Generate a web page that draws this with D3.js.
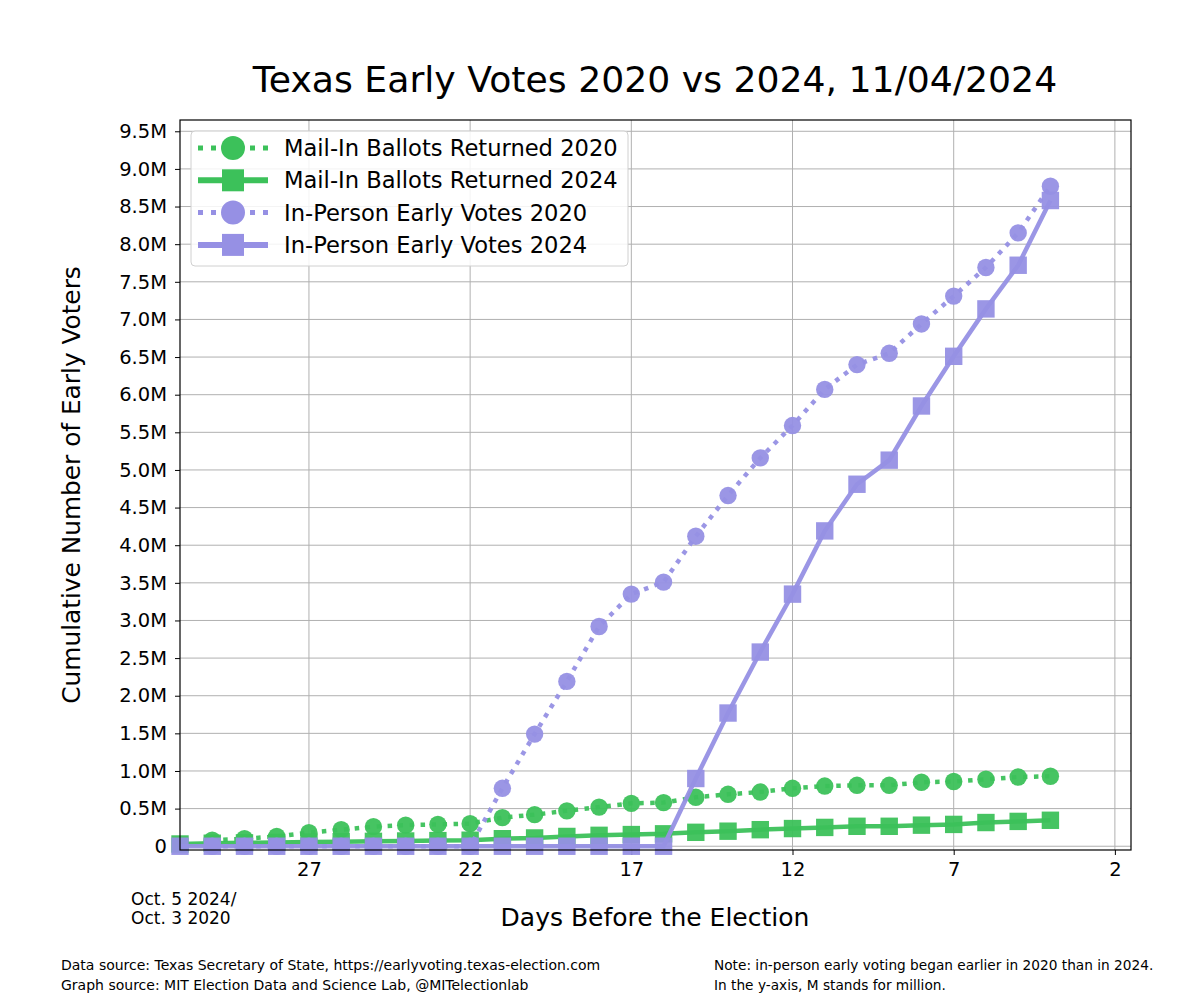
<!DOCTYPE html>
<html><head><meta charset="utf-8">
<script src="https://cdn.jsdelivr.net/npm/d3@7"></script>
<style>
body{margin:0;background:#fff;}
text{font-family:"DejaVu Sans",sans-serif;fill:#000;}
</style></head>
<body><svg id="c" width="1190" height="1000"></svg>
<script>
const days2024 = [31,30,29,28,27,26,25,24,23,22,21,20,19,18,17,16,15,14,13,12,11,10,9,8,7,6,5,4];
const days2020 = [30,29,28,27,26,25,24,23,22,21,20,19,18,17,16,15,14,13,12,11,10,9,8,7,6,5,4];
const mail2020 = [0.08,0.10,0.13,0.18,0.22,0.26,0.28,0.29,0.30,0.38,0.42,0.47,0.52,0.57,0.58,0.65,0.69,0.72,0.77,0.80,0.81,0.81,0.85,0.86,0.89,0.92,0.93];
const mail2024 = [0.03,0.04,0.045,0.05,0.055,0.06,0.065,0.07,0.075,0.08,0.10,0.11,0.13,0.145,0.155,0.165,0.185,0.20,0.22,0.235,0.25,0.265,0.265,0.28,0.29,0.315,0.33,0.345];
const inperson2020 = [0,0,0,0,0,0,0,0,0,0.77,1.49,2.19,2.92,3.35,3.51,4.12,4.66,5.16,5.59,6.07,6.40,6.55,6.94,7.31,7.69,8.15,8.77];
const inperson2024 = [0,0,0,0,0,0,0,0,0,0,0,0,0,0,0,0,0.90,1.77,2.58,3.35,4.19,4.81,5.13,5.85,6.51,7.14,7.72,8.58];
const xTicks = [27,22,17,12,7,2];
const yTicks = [0,0.5,1,1.5,2,2.5,3,3.5,4,4.5,5,5.5,6,6.5,7,7.5,8,8.5,9,9.5];
const seriesNames = ["Mail-In Ballots Returned 2020","Mail-In Ballots Returned 2024","In-Person Early Votes 2020","In-Person Early Votes 2024"];

const GREEN = "#3cc15a", PURPLE = "#9690e4";
const series = [
  {name:seriesNames[0], x:days2020, y:mail2020, color:GREEN, dotted:true, marker:"circle"},
  {name:seriesNames[1], x:days2024, y:mail2024, color:GREEN, dotted:false, marker:"square"},
  {name:seriesNames[2], x:days2020, y:inperson2020, color:PURPLE, dotted:true, marker:"circle"},
  {name:seriesNames[3], x:days2024, y:inperson2024, color:PURPLE, dotted:false, marker:"square"}
];

const L=180, R=1131, T=120, B=850;
const svg = d3.select("#c");
const x = d3.scaleLinear().domain([31,1.5]).range([L,R]);
const y = d3.scaleLinear().domain([-0.05,9.65]).range([B,T]);

// grid
const g = svg.append("g");
g.selectAll(".gy").data(yTicks).join("line")
  .attr("x1",L).attr("x2",R).attr("y1",d=>y(d)).attr("y2",d=>y(d))
  .attr("stroke","#b0b0b0").attr("stroke-width",1);
g.selectAll(".gx").data(xTicks).join("line")
  .attr("y1",T).attr("y2",B).attr("x1",d=>x(d)).attr("x2",d=>x(d))
  .attr("stroke","#b0b0b0").attr("stroke-width",1);

// axes
const fmt = d => d===0 ? "0" : d3.format(".1f")(d)+"M";
const ya = svg.append("g").attr("transform",`translate(${L},0)`)
  .call(d3.axisLeft(y).tickValues(yTicks).tickFormat(fmt).tickSize(5).tickPadding(8));
const xa = svg.append("g").attr("transform",`translate(0,${B})`)
  .call(d3.axisBottom(x).tickValues(xTicks).tickFormat(d3.format("d")).tickSize(5).tickPadding(7));
[ya,xa].forEach(a=>{
  a.select(".domain").remove();
  a.selectAll("line").attr("stroke","#000");
  a.selectAll("text").style("font-family","'DejaVu Sans',sans-serif").style("font-size","19.5px").attr("fill","#000");
});

// series
const plot = svg.append("g");
series.forEach(s=>{
  const pts = s.x.map((d,i)=>[d,s.y[i]]);
  plot.append("path").datum(pts)
    .attr("d",d3.line().x(d=>x(d[0])).y(d=>y(d[1])))
    .attr("fill","none").attr("stroke",s.color).attr("stroke-width",4.5)
    .attr("stroke-dasharray",s.dotted?"4.5 6.5":null)
    .attr("opacity",0.95);
  if(s.marker==="circle"){
    plot.selectAll(null).data(pts).join("circle")
      .attr("cx",d=>x(d[0])).attr("cy",d=>y(d[1])).attr("r",8.7)
      .attr("fill",s.color).attr("fill-opacity",0.95);
  } else {
    plot.selectAll(null).data(pts).join("rect")
      .attr("x",d=>x(d[0])-8.7).attr("y",d=>y(d[1])-8.7).attr("width",17.4).attr("height",17.4)
      .attr("fill",s.color).attr("fill-opacity",0.95);
  }
});

// frame
svg.append("rect").attr("x",L).attr("y",T).attr("width",R-L).attr("height",B-T)
  .attr("fill","none").attr("stroke","#000").attr("stroke-width",1.2);

// legend
const lg = svg.append("g");
lg.append("rect").attr("x",191).attr("y",131).attr("width",437).attr("height",135).attr("rx",4)
  .attr("fill","#fff").attr("fill-opacity",0.85).attr("stroke","#d0d0d0");
series.forEach((s,i)=>{
  const cy = 148 + i*32.3;
  lg.append("line").attr("x1",198).attr("x2",268).attr("y1",cy).attr("y2",cy)
    .attr("stroke",s.color).attr("stroke-width",s.dotted?5:6)
    .attr("stroke-dasharray",s.dotted?"5 8":null);
  if(s.marker==="circle") lg.append("circle").attr("cx",233).attr("cy",cy).attr("r",12).attr("fill",s.color);
  else lg.append("rect").attr("x",222).attr("y",cy-11).attr("width",22).attr("height",22).attr("fill",s.color);
  lg.append("text").attr("x",284).attr("y",cy).attr("dy","0.35em").style("font-size","22.6px").text(s.name);
});

// titles
svg.append("text").attr("x",655).attr("y",92).attr("text-anchor","middle").style("font-size","36.2px").text("Texas Early Votes 2020 vs 2024, 11/04/2024");
svg.append("text").attr("x",655).attr("y",926).attr("text-anchor","middle").style("font-size","25px").text("Days Before the Election");
svg.append("text").attr("transform","translate(80,485) rotate(-90)").attr("text-anchor","middle").style("font-size","24.8px").text("Cumulative Number of Early Voters");
svg.append("text").attr("x",131).attr("y",905).style("font-size","17px").text("Oct. 5 2024/");
svg.append("text").attr("x",131).attr("y",924).style("font-size","17px").text("Oct. 3 2020");
svg.append("text").attr("x",61).attr("y",970).style("font-size","14px").text("Data source: Texas Secretary of State, https://earlyvoting.texas-election.com");
svg.append("text").attr("x",61).attr("y",990).style("font-size","14px").text("Graph source: MIT Election Data and Science Lab, @MITelectionlab");
svg.append("text").attr("x",714).attr("y",970).style("font-size","13.7px").text("Note: in-person early voting began earlier in 2020 than in 2024.");
svg.append("text").attr("x",714).attr("y",990).style("font-size","13.7px").text("In the y-axis, M stands for million.");
</script></body></html>
